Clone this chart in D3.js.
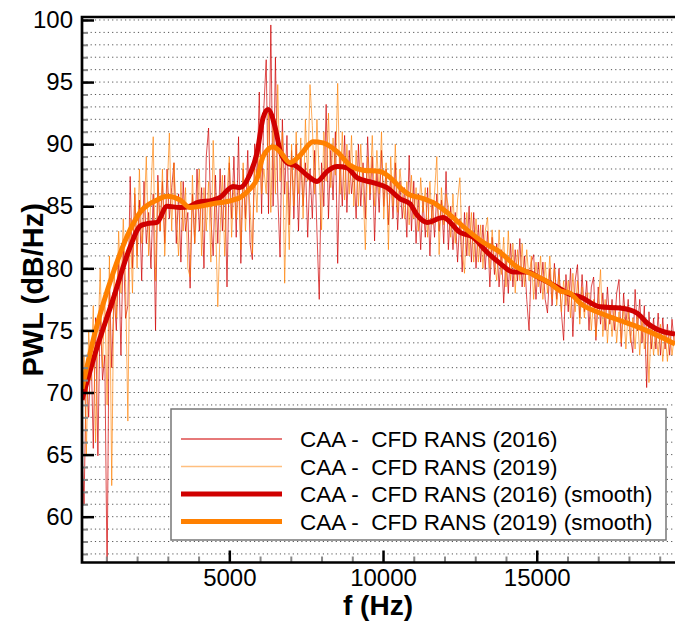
<!DOCTYPE html>
<html lang="en">
<head>
  <meta charset="UTF-8">
  <title>PWL spectrum</title>
  <script src="https://cdn.jsdelivr.net/npm/d3@7/dist/d3.min.js"></script>
  <style>
    body { margin: 0; background: #fff; }
  </style>
</head>
<body>
  <div id="container"></div>
  <script>
    const svg_width = 675;
    const svg_height = 622;
    const FONT = '"Liberation Sans", Arial, Helvetica, sans-serif';

    // raw spectra: one value every 75 Hz starting at 200 Hz
    const raw_start = 200;
    const raw_step = 75;
    const raw2016 = [
      66, 61, 72, 68, 74, 65.5, 76, 64.9, 77, 71, 73, 55, 79, 72, 78, 75, 81, 73, 82, 76,
      77, 87.4, 80, 86, 81, 85.5, 79, 87, 82, 84.5, 80, 86, 75, 87.5, 83, 87, 82, 88, 84, 86.5,
      88.5, 82, 86, 80.5, 87, 83, 84.5, 78.4, 86, 82, 88, 83, 86.5, 80, 89, 91.3, 84, 81, 87.5, 82,
      88, 83, 87.5, 78.5, 88.5, 84, 89, 82.5, 90.6, 80.4, 88, 84, 89.5, 82, 80.7, 90, 87, 94.2, 84.4, 93,
      96.8, 84.4, 99.6, 85, 97, 86, 80.9, 92, 86, 90.7, 83.5, 89.5, 84, 90, 83, 89, 85, 88.5, 82.5, 88,
      84, 89.5, 83, 77.5, 88.5, 85, 93.2, 84, 89.5, 85.5, 91, 80.4, 89, 85, 90.7, 84.5, 89.5, 86, 88, 84,
      90, 85, 88.5, 84, 90.6, 85.5, 89, 82.2, 88, 84.5, 89.5, 85, 88, 83.5, 87.5, 84, 88.5, 83.1, 87, 84,
      86.5, 82.5, 89.1, 83, 87, 82, 86, 81.5, 85.5, 82.5, 86.5, 81, 85.5, 82.5, 86, 83, 85.5, 82, 87.8, 81.5,
      85, 81.5, 84.5, 80.5, 84, 79.7, 84.5, 81, 85, 80.5, 84.5, 80, 83.5, 80.5, 83.5, 79.9, 83, 78.5, 82.5, 79.5,
      82, 78.5, 81.5, 77.2, 81, 78, 82, 78.5, 81.5, 79, 82.4, 78.5, 81, 77.5, 75, 80.5, 81.1, 77.5, 80.5, 78,
      80.5, 77.5, 76.4, 80, 77, 80.4, 77.5, 80, 76.5, 74.2, 79.5, 76.5, 80, 74.5, 79, 80.3, 76, 79.5, 76.5, 79,
      75, 78.5, 79.3, 74.2, 78.5, 75.5, 78, 75, 78.5, 75.5, 77.5, 75, 78, 79.1, 73.7, 78, 75.5, 77.5, 74.5, 73.2,
      78.3, 75, 77.5, 74, 77, 70.4, 76.5, 73.5, 76, 73.5, 76.4, 73, 76, 73.5, 75.5, 73, 75.9, 74
    ];
    const raw2019 = [
      68, 73, 65, 75, 71, 77, 66, 74, 80, 72, 78, 69, 81, 62.5, 80, 76, 83, 78, 84, 79,
      67.7, 84, 78, 86.5, 80, 88, 82, 84, 89, 81, 86, 90.6, 79, 87, 83, 88, 81, 86, 90.9, 83,
      88.5, 84, 81, 87, 83, 86.5, 80, 79.3, 87.5, 82, 85, 88, 81, 86.5, 83, 87, 80.5, 90.3, 84, 76.9,
      83, 87.5, 81, 86, 89, 82.5, 87, 84, 86.5, 81.5, 88.5, 83, 87, 85, 81.2, 88, 84.5, 90.5, 86, 88,
      86, 92.5, 84.5, 91.5, 86, 94.8, 87, 91, 78.8, 87, 81.5, 90, 85, 91, 86, 90.5, 84, 92, 87, 94.8,
      91.5, 86, 92, 87.5, 83.1, 91, 87, 92.5, 86.5, 90.5, 87.5, 94.9, 86, 91, 85.5, 90, 86, 90.7, 85, 89.5,
      85, 90, 86.5, 81.5, 89, 86, 90.7, 85, 89.5, 86, 91, 84, 88.5, 81.5, 89, 85, 90, 84.5, 88, 86,
      84, 87, 83.5, 87.5, 84, 86.5, 83, 87.3, 84.5, 86.5, 82.5, 87, 83.5, 86, 89, 81.1, 86.5, 83.5, 86, 85,
      82.5, 86, 82, 85.5, 87.3, 81.5, 79.6, 84.5, 81, 84.5, 80.5, 84, 80.5, 83.5, 80, 83, 84.1, 80, 83.1, 80.5,
      79, 83.1, 79.5, 82.5, 78.5, 83, 79, 82, 78, 81.5, 79, 82, 78.5, 81.5, 79, 81, 77.5, 80.5, 78.5, 81,
      77.5, 80.5, 78, 81, 77.5, 80, 77, 79.5, 76.5, 79, 77, 79, 76, 79.6, 76.5, 79, 75.5, 78.5, 76, 78,
      78, 75, 77.5, 74.5, 77, 79.9, 74.5, 77.5, 74, 77, 74.5, 77, 74, 76.5, 74, 77, 73.5, 76.5, 74, 76,
      73.5, 76.5, 73, 76, 73.5, 75.5, 70.8, 75.5, 73, 75, 73, 75.5, 72.5, 75, 72.5, 75, 73, 74.5
    ];

    // smoothed spectra
    const smoothF2016 = [208, 631, 1217, 1770, 2095, 2323, 2648, 2973, 3396, 3722, 3949, 4470, 4698, 5120, 5348,
      5673, 5901, 6096, 6259, 6487, 6649, 6877, 7202, 7528, 7853, 8178, 8504, 8829, 9154, 9675, 10130, 10553,
      10878, 11106, 11431, 11952, 12505, 12928, 13384, 13807, 14230, 14685, 15108, 15661, 16083, 16408, 17059,
      17709, 18263, 18588, 18913, 19500];
    const smooth2016 = [69.4, 73.1, 77.5, 81.7, 83.4, 83.6, 83.7, 85.0, 84.9, 85.0, 85.3, 85.5, 85.7, 86.6, 86.5,
      87.6, 89.3, 92.1, 92.8, 91.4, 89.5, 88.5, 88.2, 87.5, 87.0, 87.8, 88.2, 88.1, 87.3, 86.9, 86.5, 85.6,
      85.2, 84.3, 83.7, 84.1, 82.9, 82.5, 81.3, 80.4, 79.7, 79.7, 79.2, 78.5, 77.9, 77.7, 76.9,
      76.8, 76.4, 75.6, 75.1, 74.7];
    const smoothF2019 = [208, 631, 1217, 1770, 2095, 2648, 2973, 3396, 3722, 4470, 5120, 5348, 5673, 5901, 6096,
      6422, 6649, 6975, 7300, 7723, 8048, 8504, 8927, 9349, 9902, 10325, 10553, 10878, 11204, 11627, 12180,
      12733, 13254, 13807, 14360, 14880, 15433, 15758, 16083, 16408, 17059, 17709, 18360, 19011, 19500];
    const smooth2019 = [70.3, 74.8, 79.6, 83.1, 84.5, 85.5, 85.8, 85.5, 84.9, 85.2, 85.5, 85.7, 86.4, 87.2, 89.0,
      89.8, 89.4, 88.5, 89.1, 90.2, 90.1, 89.4, 88.3, 87.9, 87.8, 87.1, 86.5, 85.9, 85.7, 85.3, 84.3,
      83.1, 82.1, 81.3, 80.1, 79.5, 78.8, 78.2, 78.0, 77.2, 76.4, 75.8, 75.2, 74.5, 73.9];

    const yTicks = [60, 65, 70, 75, 80, 85, 90, 95, 100];
    const yMinorTicks = d3.range(57, 101);
    const xTicks = [5000, 10000, 15000];
    const xMinorTicks = [1000, 2000, 3000, 4000, 6000, 7000, 8000, 9000, 11000, 12000, 13000, 14000,
      16000, 17000, 18000, 19000];
    const legendLabels = ['CAA -  CFD RANS (2016)', 'CAA -  CFD RANS (2019)',
      'CAA -  CFD RANS (2016) (smooth)', 'CAA -  CFD RANS (2019) (smooth)'];

    const plot_left = 82, plot_right = 676, plot_top = 17, plot_bottom = 562.5;

    var svg = d3.select('#container')
      .append('svg')
      .attr('width', svg_width)
      .attr('height', svg_height)
      .style('font-family', FONT);

    var x_scale = d3.scaleLinear().domain([208, 19530]).range([plot_left, plot_right]);
    var y_scale = d3.scaleLinear().domain([56.27, 100.24]).range([563, plot_top]);

    // dotted horizontal grid
    svg.append('g')
      .selectAll('line')
      .data(yMinorTicks)
      .enter()
      .append('line')
      .attr('x1', plot_left)
      .attr('x2', plot_right)
      .attr('y1', d => y_scale(d))
      .attr('y2', d => y_scale(d))
      .attr('stroke', '#555')
      .attr('stroke-width', 1)
      .attr('stroke-dasharray', '1.2,3.1');

    svg.append('clipPath')
      .attr('id', 'plot-clip')
      .append('rect')
      .attr('x', plot_left)
      .attr('y', plot_top)
      .attr('width', plot_right - plot_left)
      .attr('height', plot_bottom - plot_top);

    var plotArea = svg.append('g').attr('clip-path', 'url(#plot-clip)');

    var rawLine = d3.line()
      .x((d, i) => x_scale(raw_start + i * raw_step))
      .y(d => y_scale(d));

    plotArea.append('path')
      .datum(raw2016)
      .attr('d', rawLine)
      .attr('fill', 'none')
      .attr('stroke', '#d00000')
      .attr('stroke-opacity', 0.7)
      .attr('stroke-width', 1);

    plotArea.append('path')
      .datum(raw2019)
      .attr('d', rawLine)
      .attr('fill', 'none')
      .attr('stroke', '#ff8000')
      .attr('stroke-opacity', 0.65)
      .attr('stroke-width', 1);

    var smoothLine = d3.line()
      .x(d => x_scale(d[0]))
      .y(d => y_scale(d[1]))
      .curve(d3.curveMonotoneX);

    plotArea.append('path')
      .datum(d3.zip(smoothF2016, smooth2016))
      .attr('d', smoothLine)
      .attr('fill', 'none')
      .attr('stroke', '#d00000')
      .attr('stroke-width', 5);

    plotArea.append('path')
      .datum(d3.zip(smoothF2019, smooth2019))
      .attr('d', smoothLine)
      .attr('fill', 'none')
      .attr('stroke', '#ff8000')
      .attr('stroke-width', 5);

    // axes: minor ticks first, then major ticks with labels
    var y_minor = d3.axisLeft(y_scale).tickValues(yMinorTicks).tickSize(-6).tickSizeOuter(0).tickFormat('');
    svg.append('g').attr('transform', 'translate(' + plot_left + ',0)').call(y_minor)
      .call(g => g.select('.domain').remove())
      .selectAll('line').attr('stroke', '#888').attr('stroke-width', 2);

    var x_minor = d3.axisBottom(x_scale).tickValues(xMinorTicks).tickSize(-6).tickSizeOuter(0).tickFormat('');
    svg.append('g').attr('transform', 'translate(0,' + plot_bottom + ')').call(x_minor)
      .call(g => g.select('.domain').remove())
      .selectAll('line').attr('stroke', '#888').attr('stroke-width', 2);

    var y_axis = d3.axisLeft(y_scale).tickValues(yTicks).tickSize(-12).tickSizeOuter(0).tickPadding(9)
      .tickFormat(d3.format('d'));
    var gy = svg.append('g').attr('transform', 'translate(' + plot_left + ',0)').call(y_axis)
      .attr('font-family', FONT).attr('font-size', 24);
    gy.select('.domain').remove();
    gy.selectAll('line').attr('stroke', '#000').attr('stroke-width', 2.5);
    gy.selectAll('text').attr('fill', '#000');

    var x_axis = d3.axisBottom(x_scale).tickValues(xTicks).tickSize(-12).tickSizeOuter(0).tickPadding(6)
      .tickFormat(d3.format('d'));
    var gx = svg.append('g').attr('transform', 'translate(0,' + plot_bottom + ')').call(x_axis)
      .attr('font-family', FONT).attr('font-size', 24);
    gx.select('.domain').remove();
    gx.selectAll('line').attr('stroke', '#000').attr('stroke-width', 2.5);
    gx.selectAll('text').attr('fill', '#000');

    // frame
    svg.append('path')
      .attr('d', 'M' + plot_right + ',' + plot_top + 'H' + plot_left + 'V' + plot_bottom + 'H' + plot_right)
      .attr('fill', 'none')
      .attr('stroke', '#000')
      .attr('stroke-width', 2.7);

    // axis titles
    svg.append('text')
      .attr('x', (plot_left + plot_right) / 2 - 1)
      .attr('y', 615)
      .attr('text-anchor', 'middle')
      .attr('font-size', 28)
      .attr('font-weight', 'bold')
      .text('f (Hz)');

    svg.append('text')
      .attr('transform', 'translate(43,' + ((plot_top + plot_bottom) / 2) + ') rotate(-90)')
      .attr('text-anchor', 'middle')
      .attr('font-size', 29)
      .attr('font-weight', 'bold')
      .text('PWL (dB/Hz)');

    // legend
    var legend = svg.append('g');
    legend.append('rect')
      .attr('x', 171)
      .attr('y', 409)
      .attr('width', 495)
      .attr('height', 131)
      .attr('fill', '#fff')
      .attr('stroke', '#777')
      .attr('stroke-width', 1.5);

    var legendStyles = [
      { color: '#d00000', width: 1.5, opacity: 0.7 },
      { color: '#ff8000', width: 1.5, opacity: 0.5 },
      { color: '#d00000', width: 5, opacity: 1 },
      { color: '#ff8000', width: 5, opacity: 1 }
    ];

    var rows = legend.selectAll('g.row')
      .data(legendLabels)
      .enter()
      .append('g')
      .attr('class', 'row')
      .attr('transform', (d, i) => 'translate(0,' + (439 + i * 27.5) + ')');

    rows.append('line')
      .attr('x1', 181)
      .attr('x2', 282)
      .attr('stroke', (d, i) => legendStyles[i].color)
      .attr('stroke-width', (d, i) => legendStyles[i].width)
      .attr('stroke-opacity', (d, i) => legendStyles[i].opacity);

    rows.append('text')
      .attr('x', 300)
      .attr('y', 8)
      .attr('font-size', 22.5)
      .style('white-space', 'pre')
      .text(d => d);
  </script>
</body>
</html>
